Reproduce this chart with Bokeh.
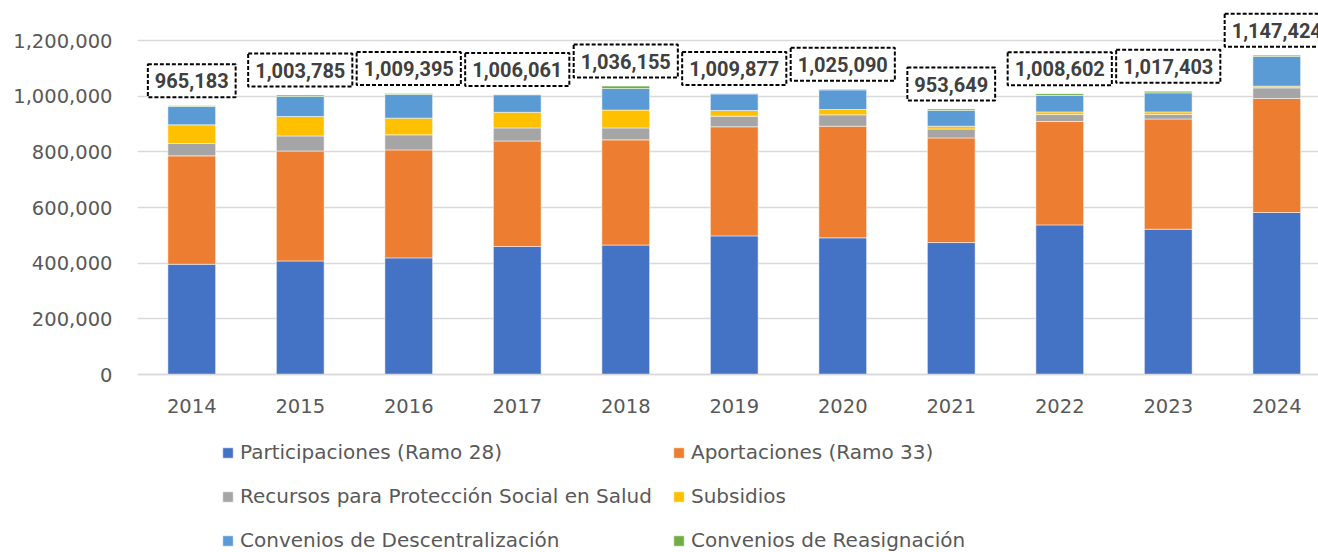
from bokeh.plotting import figure
from bokeh.models import (ColumnDataSource, Range1d, FixedTicker, NumeralTickFormatter,
                          Legend, LegendItem, LinearAxis)
from bokeh.core.properties import value
from bokeh.embed import file_html
from bokeh.resources import INLINE

years = ["2014", "2015", "2016", "2017", "2018", "2019", "2020", "2021", "2022", "2023", "2024"]
participaciones = [396000, 408000, 419000, 460000, 465000, 498000, 491000, 474000, 537500, 522000, 582000]
aportaciones = [389500, 395000, 388000, 379000, 378000, 392000, 401000, 376000, 371500, 396000, 409700]
recursos = [44500, 54000, 54000, 47000, 43000, 38000, 41000, 32000, 25000, 16000, 38100]
subsidios = [67000, 70000, 60000, 56000, 64000, 20500, 19000, 10000, 9500, 9500, 6200]
descentralizacion = [66000, 72000, 85000, 63000, 77600, 59500, 70600, 56500, 59000, 68500, 106600]
reasignacion = [2200, 4800, 3400, 1100, 8500, 1900, 2500, 5100, 6100, 5400, 4800]
totals = [965183, 1003785, 1009395, 1006061, 1036155, 1009877, 1025090, 953649, 1008602, 1017403, 1147424]

series_names = ["Participaciones (Ramo 28)", "Aportaciones (Ramo 33)",
                "Recursos para Protección Social en Salud", "Subsidios",
                "Convenios de Descentralización", "Convenios de Reasignación"]
colors = ["#4472C4", "#ED7D31", "#A5A5A5", "#FFC000", "#5B9BD5", "#70AD47"]
keys = ["part", "aport", "rec", "sub", "desc", "reas"]

FONT = "DejaVu Sans"
LFONT = "Roboto"
TXT = "#595959"

xs = list(range(len(years)))
src = ColumnDataSource(dict(x=xs, part=participaciones, aport=aportaciones, rec=recursos,
                            sub=subsidios, desc=descentralizacion, reas=reasignacion))

PX = 1.2e6 / 334.0  # data units per pixel
p = figure(width=1318, height=552, output_backend="svg", toolbar_location=None,
           x_axis_location=None,
           x_range=Range1d(-0.5, -0.5 + 1181 / 108.5),
           y_range=Range1d(-178 * PX, 374 * PX),
           min_border_left=137, min_border_right=0, min_border_top=0, min_border_bottom=0)
p.outline_line_color = None
p.background_fill_color = "white"
p.border_fill_color = "white"

rs = p.vbar_stack(keys, x="x", width=0.44, color=colors, source=src,
                  line_color="white", line_width=1, line_alpha=0.5)

labels = [f"{v:,}" for v in totals]
lsrc = ColumnDataSource(dict(x=xs, y=totals, t=labels))
p.text(x="x", y="y", text="t", source=lsrc, y_offset=-25,
       text_align="center", text_baseline="middle",
       text_font=value(LFONT), text_font_style="bold", text_font_size="20px",
       text_color="#404040",
       background_fill_color="white", border_line_color="black",
       border_line_dash="4 2", border_line_width=2, padding=dict(x=7, y=9))

# axes
p.yaxis.ticker = FixedTicker(ticks=[0, 200000, 400000, 600000, 800000, 1000000, 1200000])
p.yaxis.formatter = NumeralTickFormatter(format="0,0")
p.yaxis.axis_line_color = None
p.yaxis.major_tick_line_color = None
p.yaxis.minor_tick_line_color = None
p.yaxis.major_tick_out = 0
p.yaxis.major_label_standoff = 25
p.yaxis.major_label_text_font = FONT
p.yaxis.major_label_text_font_size = "19.5px"
p.yaxis.major_label_text_color = TXT

xaxis = LinearAxis(fixed_location=0, ticker=FixedTicker(ticks=xs),
                   major_label_overrides={i: y for i, y in enumerate(years)})
xaxis.axis_line_color = "#D9D9D9"
xaxis.axis_line_width = 1.5
xaxis.major_tick_line_color = None
xaxis.minor_tick_line_color = None
xaxis.major_tick_out = 0
xaxis.major_label_standoff = 24
xaxis.major_label_text_font = FONT
xaxis.major_label_text_font_size = "19.5px"
xaxis.major_label_text_color = TXT
p.add_layout(xaxis, "below")

p.xgrid.grid_line_color = None
p.ygrid.grid_line_color = "#D9D9D9"
p.ygrid.grid_line_width = 1.5

items = [LegendItem(label=n, renderers=[r]) for n, r in zip(series_names, rs)]
legend = Legend(items=items, location=(84, 0), orientation="horizontal", ncols=2,
                padding=0, margin=0, spacing=20, label_standoff=6,
                glyph_width=13, glyph_height=13, label_height=24,
                label_text_font=FONT, label_text_font_size="20px", label_text_color=TXT,
                background_fill_alpha=0, border_line_color=None)
p.add_layout(legend, "center")

open("out.html", "w").write(file_html(p, INLINE))
